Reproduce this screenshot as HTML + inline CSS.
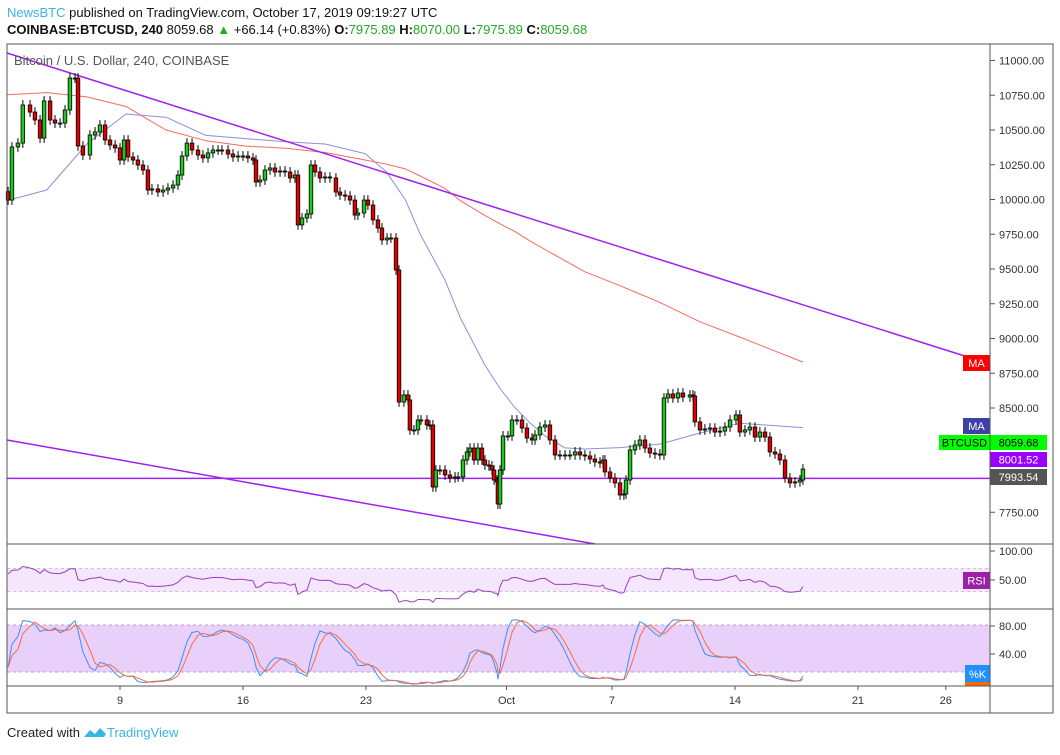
<!DOCTYPE html>
<html><head><meta charset="utf-8"><style>
body{margin:0;background:#fff;width:1060px;height:750px;overflow:hidden;font-family:"Liberation Sans",sans-serif}
svg text{font-family:"Liberation Sans",sans-serif}
</style></head><body>
<svg id="c" width="1060" height="750" xmlns="http://www.w3.org/2000/svg">
<text x="7" y="17" font-size="13"><tspan fill="#3bb3e4">NewsBTC</tspan><tspan fill="#111"> published on TradingView.com, October 17, 2019 09:19:27 UTC</tspan></text>
<text x="7" y="34" font-size="13" fill="#111"><tspan font-weight="bold">COINBASE:BTCUSD, 240</tspan><tspan> 8059.68 </tspan><tspan fill="#22aa22">▲</tspan><tspan> +66.14 (+0.83%) </tspan><tspan font-weight="bold">O:</tspan><tspan fill="#22aa22">7975.89 </tspan><tspan font-weight="bold">H:</tspan><tspan fill="#22aa22">8070.00 </tspan><tspan font-weight="bold">L:</tspan><tspan fill="#22aa22">7975.89 </tspan><tspan font-weight="bold">C:</tspan><tspan fill="#22aa22">8059.68</tspan></text>
<g id="g"></g>
<rect x="7" y="44" width="1046" height="669" fill="none" stroke="#555"/>
<line x1="990" y1="44" x2="990" y2="713" stroke="#555"/>
<line x1="7" y1="544" x2="1053" y2="544" stroke="#555"/>
<line x1="7" y1="609" x2="1053" y2="609" stroke="#555"/>
<line x1="7" y1="686" x2="1053" y2="686" stroke="#555"/>
<text x="14" y="65" font-size="13" fill="#555">Bitcoin / U.S. Dollar, 240, COINBASE</text>
<text x="7" y="737" font-size="13" fill="#222">Created with</text>
<path d="M84 737 l6 -7 l5 4 l5 -6 l6 6 l-2 3 z" fill="#3bb3e4"/>
<text x="107" y="737" font-size="13" fill="#3bb3e4">TradingView</text>
</svg>
<script>
const days=[2.63,2.85,3.19,3.47,3.88,4.16,4.45,4.68,5.02,5.30,5.59,5.87,6.15,6.44,6.61,6.89,7.29,7.58,7.86,8.15,8.43,8.72,9.00,9.23,9.46,9.74,10.02,10.31,10.59,10.82,11.16,11.45,11.73,12.02,12.30,12.53,12.81,13.10,13.44,13.72,14.01,14.29,14.58,14.80,15.15,15.43,15.72,16.00,16.28,16.57,16.74,16.97,17.25,17.54,17.82,18.11,18.39,18.68,18.96,19.13,19.36,19.64,19.87,20.10,20.38,20.67,20.95,21.29,21.52,21.81,22.09,22.37,22.54,22.89,23.11,23.40,23.68,23.91,24.20,24.42,24.71,24.88,25.16,25.39,25.50,25.73,25.96,26.13,26.47,26.64,26.81,26.98,27.21,27.50,27.78,28.07,28.24,28.52,28.75,28.92,29.15,29.37,29.60,29.77,30.00,30.17,30.29,30.46,30.51,30.63,30.80,31.08,31.31,31.59,31.88,32.16,32.45,32.62,32.90,33.19,33.47,33.76,34.04,34.33,34.61,34.90,35.18,35.46,35.75,36.03,36.32,36.49,36.60,36.89,37.17,37.46,37.68,37.80,38.03,38.31,38.59,38.88,39.16,39.45,39.73,39.96,40.19,40.47,40.76,41.04,41.44,41.61,41.72,42.01,42.29,42.58,42.86,43.15,43.43,43.72,44.06,44.28,44.57,44.85,45.14,45.42,45.71,45.99,46.28,46.56,46.85,47.13,47.42,47.70,47.87];
const closes=[9996,10378,10406,10680,10629,10572,10442,10709,10572,10550,10550,10644,10874,10874,10385,10320,10464,10486,10536,10428,10392,10371,10284,10428,10306,10284,10248,10212,10068,10076,10054,10068,10083,10104,10176,10313,10406,10356,10320,10299,10335,10356,10356,10356,10327,10306,10313,10313,10299,10284,10126,10140,10212,10227,10198,10205,10198,10155,10176,9817,9867,9896,10248,10198,10155,10162,10155,10054,10032,10025,9996,9888,9903,9996,9960,9853,9795,9709,9723,9723,9493,8543,8594,8558,8342,8342,8414,8414,8378,8378,7932,8054,8054,8018,7997,8004,8004,8126,8184,8212,8126,8212,8126,8090,8083,8054,7982,7968,7809,8054,8299,8299,8414,8414,8356,8284,8270,8306,8363,8378,8270,8162,8162,8162,8162,8184,8162,8155,8133,8112,8104,8126,8040,7997,7961,7874,7881,7982,8198,8234,8270,8212,8176,8169,8162,8572,8601,8572,8608,8579,8594,8586,8400,8342,8349,8356,8327,8334,8363,8414,8450,8327,8342,8363,8291,8327,8291,8184,8169,8126,7997,7961,7968,7982,8061];
const maDays=[2.57,4.83,7.11,9.34,11.62,13.89,16.17,18.45,20.67,22.95,24.15,25.23,26.09,27.50,28.36,29.78,30.63,31.50,32.35,33.19,34.33,35.46,37.46,39.73,42.01,44.28,47.87];
const maSlow=[10754,10769,10738,10669,10500,10423,10384,10369,10338,10284,10255,10220,10169,10080,9992,9884,9825,9768,9700,9640,9560,9480,9380,9260,9120,9010,8830];
const maFast=[9992,10068,10399,10615,10592,10461,10438,10415,10399,10330,10200,10000,9750,9420,9150,8806,8640,8500,8390,8300,8213,8205,8215,8240,8320,8390,8359];
const priceTicks=[11000,10750,10500,10250,10000,9750,9500,9250,9000,8750,8500,7750];
const dateLabels=["9","16","23","Oct","7","14","21","26"];
const dateDays=[9,16,23,31,37,44,51,56];
const rsiTicks=[100,50];
const stochTicks=[80,40];
const NS="http://www.w3.org/2000/svg",G=document.getElementById('g');
function el(t,a,p){const e=document.createElementNS(NS,t);for(const k in a)e.setAttribute(k,a[k]);(p||G).appendChild(e);return e;}
const xd=d=>120+(d-9)*17.57;
const N=Math.min(days.length,closes.length);
const xi=i=>xd(days[i]);
const yP=p=>130+(10500-p)*0.139;
const yR=v=>551+(100-v)*0.58;
const yS=v=>686-v*0.7;
let b=el('rect',{x:7,y:yR(70),width:983,height:yR(30)-yR(70),fill:'#f3e6fd',stroke:'#cbb8d8','stroke-dasharray':'3,3'});


b=el('rect',{x:7,y:625,width:983,height:47,fill:'#e8d0fb',stroke:'#b9a2c8','stroke-dasharray':'3,3'});


priceTicks.forEach(p=>{const y=yP(p);el('line',{x1:990,y1:y,x2:995,y2:y,stroke:'#555'});
const t=el('text',{x:999,y:y+4,'font-size':11,fill:'#333'});t.textContent=p.toFixed(2);

});
rsiTicks.forEach(v=>{const y=yR(v);el('line',{x1:990,y1:y,x2:995,y2:y,stroke:'#555'});const t=el('text',{x:999,y:y+4,'font-size':11,fill:'#333'});t.textContent=v.toFixed(2);

});
stochTicks.forEach(v=>{const y=yS(v)-4;el('line',{x1:990,y1:y,x2:995,y2:y,stroke:'#555'});const t=el('text',{x:999,y:y+4,'font-size':11,fill:'#333'});t.textContent=v.toFixed(2);

});
dateLabels.forEach((s,i)=>{const x=xd(dateDays[i]);el('line',{x1:x,y1:686,x2:x,y2:690,stroke:'#555'});const t=el('text',{x:x,y:704,'font-size':11,fill:'#333','text-anchor':'middle'});t.textContent=s;

});
function poly(arr,xf,yf,col,w,name){const pts=arr.map((v,i)=>xf(i).toFixed(1)+','+yf(v).toFixed(1)).join(' ');const l=el('polyline',{points:pts,fill:'none',stroke:col,'stroke-width':w,'stroke-linejoin':'round'});

return l;}
const xm=i=>xd(maDays[i]);
poly(maSlow,xm,yP,'#f36b5f',1,'ma-slow-line');
poly(maFast,xm,yP,'#8c8fd8',1,'ma-fast-line');
let l=el('line',{x1:7,y1:53,x2:990,y2:364,stroke:'#a020f0','stroke-width':1.5});


l=el('line',{x1:7,y1:440,x2:595,y2:544,stroke:'#a020f0','stroke-width':1.5});


l=el('line',{x1:7,y1:yP(7993.54),x2:990,y2:yP(7993.54),stroke:'#a020f0','stroke-width':1.5});


const cl=closes.slice(0,N);
const highs=[],lows=[];
cl.forEach((c,i)=>{const o=i?cl[i-1]:c+60;const hi=Math.max(o,c)+35,lo=Math.min(o,c)-35;highs.push(hi);lows.push(lo);
const x=xi(i);const g=el('g',{});


el('line',{x1:x,y1:yP(hi),x2:x,y2:yP(lo),stroke:'#000','stroke-width':1},g);
const yt=yP(Math.max(o,c)),yb=yP(Math.min(o,c));
el('rect',{x:x-1.8,y:yt,width:3.6,height:Math.max(1,yb-yt),fill:c>=o?'#1ec81e':'#e00000',stroke:'#000','stroke-width':0.8},g);});
const rsi=[];let ag=40,al=35;
cl.forEach((c,i)=>{if(i==0){rsi.push(60);return;}const d=c-cl[i-1];const gn=Math.max(d,0),ls=Math.max(-d,0);ag=(ag*13+gn)/14;al=(al*13+ls)/14;rsi.push(al==0?70:100-100/(1+ag/al));});
poly(rsi,xi,yR,'#9c3fc0',1,'rsi-line');
const k=[];cl.forEach((c,i)=>{const s=Math.max(0,i-13);const hh=Math.max(...highs.slice(s,i+1)),ll=Math.min(...lows.slice(s,i+1));k.push(100*(c-ll)/(hh-ll||1));});
const sm=(a,n)=>a.map((v,i)=>{const s=a.slice(Math.max(0,i-n+1),i+1);return s.reduce((p,q)=>p+q,0)/s.length;});
const K=sm(k,3),D=sm(K,3);
poly(K,xi,yS,'#3d8fff',1,'stoch-k-line');
poly(D,xi,yS,'#ff6a3d',1,'stoch-d-line');
function box(x,y,w,h,fill,txt,col,name){const r=el('rect',{x:x,y:y,width:w,height:h,fill:fill});


const t=el('text',{x:x+w/2,y:y+h/2+4,'font-size':11,fill:col,'text-anchor':'middle'});t.textContent=txt;

}
box(963,355,27,16,'#ff0000','MA','#fff','ma-slow-label');
box(963,418,27,16,'#3f3fa8','MA','#fff','ma-fast-label');
box(939,435,51,15,'#00ff00','BTCUSD','#000','symbol-label');
box(990,435,57,15,'#00ff00','8059.68','#000','last-price-label');
box(990,452,57,15,'#9900ff','8001.52','#fff','purple-price-label');
box(990,469,57,16,'#555555','7993.54','#fff','line-price-label');
box(963,572,27,17,'#9c1fa8','RSI','#fff','rsi-label');
box(965,665,25,18,'#1e90ff','%K','#fff','stoch-label');
box(965,682,25,4,'#ff6a00','','#fff','stoch-d-marker');
</script>
</body></html>
